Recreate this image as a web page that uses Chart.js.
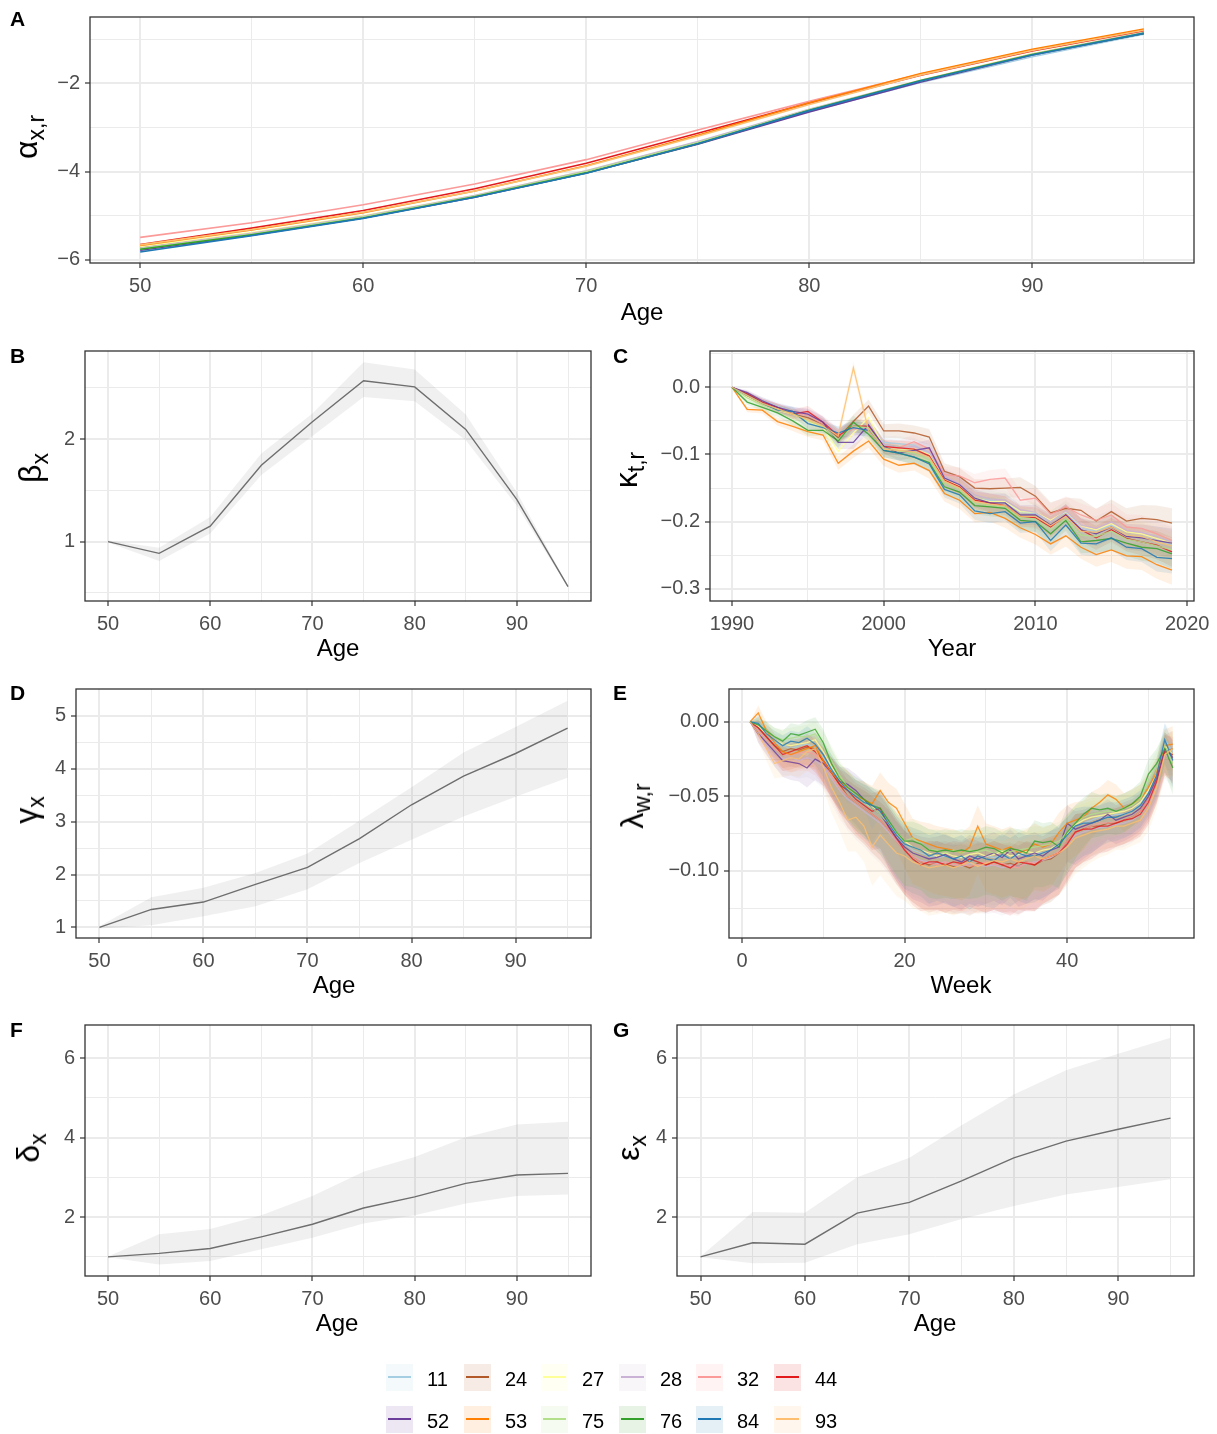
<!DOCTYPE html>
<html><head><meta charset="utf-8">
<script src="https://cdn.jsdelivr.net/npm/chart.js@4.4.0/dist/chart.umd.min.js"></script>
<style>
body{margin:0;background:#fff;width:1217px;height:1434px;position:relative;overflow:hidden;font-family:"Liberation Sans",Arial,sans-serif;}
canvas.pc{position:absolute;left:0;top:0;}
.lbl{position:absolute;font-weight:bold;font-size:21px;color:#000;line-height:1;}
.xt{position:absolute;font-size:24px;color:#000;transform:translate(-50%,-50%);white-space:nowrap;line-height:1;}
.yt{position:absolute;font-size:32px;color:#000;transform:translate(-50%,-50%) rotate(-90deg);white-space:nowrap;line-height:1;}
.yt sub{font-size:23px;vertical-align:-7px;}
.key{position:absolute;width:27px;height:27px;}
.kl{position:absolute;display:block;left:2px;width:23px;top:12px;height:2px;}
.ltx{position:absolute;font-size:20px;color:#000;line-height:1;}
</style>
</head><body>
<script>
// ---------- DATA ----------
const regions = ['11','24','27','28','32','44','52','53','75','76','84','93'];
const regionColors = ['#A6CEE3','#B15928','#FFFF99','#CAB2D6','#FB9A99','#E31A1C','#6A3D9A','#FF7F00','#B2DF8A','#33A02C','#1F78B4','#FDBF6F'];

const ages = [50,55,60,65,70,75,80,85,90,95];
const ageTicks = [50,60,70,80,90];
const ageMinor = [55,65,75,85,95];

// Panel A: alpha_{x,r}
const alpha11 = [-5.80,-5.44,-5.05,-4.58,-4.02,-3.37,-2.64,-1.98,-1.40,-0.89];
const alpha24 = [-5.72,-5.40,-5.02,-4.56,-4.01,-3.36,-2.62,-1.95,-1.35,-0.86];
const alpha27 = [-5.70,-5.38,-5.00,-4.54,-3.98,-3.33,-2.60,-1.93,-1.33,-0.85];
const alpha28 = [-5.73,-5.40,-5.01,-4.54,-3.98,-3.32,-2.59,-1.93,-1.34,-0.85];
const alpha32 = [-5.49,-5.16,-4.75,-4.28,-3.73,-3.06,-2.41,-1.79,-1.25,-0.80];
const alpha44 = [-5.65,-5.28,-4.88,-4.39,-3.81,-3.13,-2.45,-1.82,-1.27,-0.81];
const alpha52 = [-5.78,-5.44,-5.05,-4.58,-4.03,-3.38,-2.65,-1.97,-1.36,-0.87];
const alpha53 = [-5.67,-5.32,-4.93,-4.44,-3.87,-3.18,-2.44,-1.78,-1.23,-0.77];
const alpha75 = [-5.75,-5.42,-5.03,-4.56,-4.00,-3.34,-2.60,-1.94,-1.35,-0.86];
const alpha76 = [-5.76,-5.43,-5.05,-4.57,-4.03,-3.37,-2.61,-1.94,-1.35,-0.87];
const alpha84 = [-5.82,-5.45,-5.06,-4.58,-4.04,-3.37,-2.62,-1.95,-1.36,-0.87];
const alpha93 = [-5.66,-5.31,-4.92,-4.44,-3.88,-3.20,-2.48,-1.81,-1.26,-0.80];
const alphaTicks = [-6,-4,-2], alphaTickLabels = ['\u22126','\u22124','\u22122'], alphaMinor = [-5,-3,-1];

// Panel B: beta_x
const beta   = [1.00,0.885,1.15,1.745,2.17,2.57,2.51,2.095,1.41,0.56];
const betaLo = [0.99,0.81,1.08,1.65,2.03,2.41,2.37,1.99,1.35,0.55];
const betaHi = [1.01,0.94,1.24,1.86,2.25,2.75,2.68,2.24,1.48,0.57];
const betaTicks = [1,2], betaTickLabels = ['1','2'], betaMinor = [0.5,1.5,2.5];

// Panel C: kappa_{t,r}
const years = [1990,1991,1992,1993,1994,1995,1996,1997,1998,1999,2000,2001,2002,2003,2004,2005,2006,2007,2008,2009,2010,2011,2012,2013,2014,2015,2016,2017,2018,2019];
const kappa11 = [0,-0.010,-0.020,-0.028,-0.036,-0.044,-0.054,-0.070,-0.058,-0.060,-0.082,-0.084,-0.086,-0.098,-0.134,-0.146,-0.166,-0.168,-0.172,-0.185,-0.188,-0.200,-0.186,-0.210,-0.214,-0.205,-0.220,-0.222,-0.228,-0.234];
const kappa24 = [0,-0.010,-0.022,-0.032,-0.040,-0.045,-0.055,-0.075,-0.051,-0.028,-0.065,-0.065,-0.068,-0.074,-0.125,-0.133,-0.150,-0.151,-0.150,-0.149,-0.162,-0.187,-0.180,-0.183,-0.199,-0.185,-0.199,-0.195,-0.197,-0.202];
const kappa27 = [0,-0.015,-0.026,-0.034,-0.040,-0.050,-0.060,-0.095,-0.068,-0.045,-0.088,-0.092,-0.092,-0.100,-0.138,-0.146,-0.165,-0.170,-0.170,-0.185,-0.186,-0.198,-0.185,-0.206,-0.212,-0.203,-0.215,-0.218,-0.225,-0.232];
const kappa28 = [0,-0.012,-0.022,-0.030,-0.037,-0.040,-0.050,-0.070,-0.062,-0.060,-0.085,-0.090,-0.088,-0.096,-0.132,-0.144,-0.160,-0.166,-0.168,-0.182,-0.186,-0.200,-0.184,-0.205,-0.210,-0.200,-0.213,-0.216,-0.222,-0.230];
const kappa32 = [0,-0.012,-0.022,-0.030,-0.038,-0.042,-0.055,-0.072,-0.062,-0.062,-0.090,-0.090,-0.081,-0.092,-0.130,-0.132,-0.142,-0.137,-0.135,-0.168,-0.165,-0.189,-0.178,-0.190,-0.198,-0.190,-0.208,-0.210,-0.218,-0.228];
const kappa44 = [0,-0.010,-0.022,-0.030,-0.040,-0.036,-0.052,-0.072,-0.058,-0.058,-0.088,-0.090,-0.092,-0.102,-0.138,-0.148,-0.168,-0.172,-0.176,-0.192,-0.194,-0.208,-0.190,-0.212,-0.224,-0.212,-0.225,-0.230,-0.235,-0.245];
const kappa52 = [0,-0.008,-0.020,-0.030,-0.036,-0.040,-0.052,-0.082,-0.082,-0.056,-0.088,-0.098,-0.094,-0.090,-0.135,-0.145,-0.165,-0.172,-0.172,-0.190,-0.190,-0.205,-0.190,-0.212,-0.218,-0.208,-0.222,-0.224,-0.228,-0.232];
const kappa53 = [0,-0.033,-0.034,-0.051,-0.058,-0.066,-0.071,-0.113,-0.095,-0.080,-0.107,-0.116,-0.113,-0.124,-0.158,-0.168,-0.188,-0.186,-0.195,-0.209,-0.219,-0.233,-0.221,-0.238,-0.249,-0.242,-0.251,-0.252,-0.264,-0.272];
const kappa75 = [0,-0.016,-0.026,-0.032,-0.040,-0.050,-0.058,-0.078,-0.058,-0.060,-0.090,-0.095,-0.098,-0.108,-0.142,-0.152,-0.172,-0.176,-0.178,-0.194,-0.196,-0.212,-0.196,-0.220,-0.222,-0.214,-0.226,-0.230,-0.236,-0.242];
const kappa76 = [0,-0.022,-0.030,-0.038,-0.050,-0.064,-0.064,-0.080,-0.052,-0.070,-0.094,-0.098,-0.104,-0.112,-0.148,-0.156,-0.176,-0.178,-0.180,-0.198,-0.200,-0.218,-0.198,-0.230,-0.228,-0.225,-0.232,-0.238,-0.240,-0.248];
const kappa84 = [0,-0.012,-0.024,-0.034,-0.036,-0.054,-0.060,-0.068,-0.060,-0.064,-0.094,-0.098,-0.104,-0.114,-0.152,-0.160,-0.184,-0.188,-0.185,-0.202,-0.200,-0.228,-0.205,-0.232,-0.233,-0.224,-0.238,-0.240,-0.253,-0.255];
const kappa93 = [0,-0.012,-0.024,-0.032,-0.040,-0.048,-0.058,-0.072,0.029,-0.065,-0.092,-0.094,-0.096,-0.104,-0.140,-0.150,-0.170,-0.174,-0.176,-0.192,-0.192,-0.206,-0.192,-0.214,-0.216,-0.208,-0.220,-0.222,-0.230,-0.236];
const kappaHalfWidth = [0,0.004,0.005,0.006,0.007,0.008,0.008,0.010,0.010,0.010,0.010,0.011,0.011,0.012,0.012,0.013,0.013,0.014,0.014,0.015,0.015,0.016,0.016,0.017,0.018,0.018,0.019,0.020,0.021,0.022];
const yearTicks = [1990,2000,2010,2020], yearMinor = [1995,2005,2015];
const kappaTicks = [-0.3,-0.2,-0.1,0], kappaTickLabels = ['\u22120.3','\u22120.2','\u22120.1','0.0'], kappaMinor = [-0.25,-0.15,-0.05,0.05];

// Panel D: gamma_x
const gamma   = [1.00,1.34,1.48,1.815,2.135,2.68,3.32,3.86,4.29,4.77];
const gammaLo = [0.98,1.04,1.21,1.40,1.72,2.22,2.66,3.10,3.47,3.83];
const gammaHi = [1.02,1.57,1.75,2.03,2.40,3.02,3.65,4.31,4.79,5.29];
const gammaTicks = [1,2,3,4,5], gammaTickLabels = ['1','2','3','4','5'], gammaMinor = [1.5,2.5,3.5,4.5];

// Panel E: lambda_{w,r}
const weeks = [1,2,3,4,5,6,7,8,9,10,11,12,13,14,15,16,17,18,19,20,21,22,23,24,25,26,27,28,29,30,31,32,33,34,35,36,37,38,39,40,41,42,43,44,45,46,47,48,49,50,51,52,53];
const lambda11 = [0,-0.004,-0.010,-0.014,-0.016,-0.018,-0.016,-0.015,-0.017,-0.024,-0.032,-0.040,-0.046,-0.050,-0.054,-0.058,-0.062,-0.068,-0.076,-0.082,-0.086,-0.088,-0.090,-0.091,-0.090,-0.092,-0.091,-0.090,-0.092,-0.090,-0.091,-0.090,-0.092,-0.089,-0.090,-0.088,-0.088,-0.086,-0.083,-0.076,-0.070,-0.068,-0.066,-0.064,-0.064,-0.062,-0.062,-0.060,-0.055,-0.046,-0.034,-0.012,-0.020];
const lambda24 = [0,-0.004,-0.010,-0.016,-0.020,-0.018,-0.019,-0.017,-0.018,-0.026,-0.034,-0.042,-0.050,-0.054,-0.058,-0.062,-0.066,-0.072,-0.080,-0.086,-0.090,-0.094,-0.096,-0.094,-0.096,-0.097,-0.096,-0.098,-0.095,-0.096,-0.094,-0.096,-0.095,-0.097,-0.094,-0.096,-0.093,-0.092,-0.088,-0.080,-0.074,-0.072,-0.070,-0.070,-0.068,-0.068,-0.066,-0.064,-0.060,-0.052,-0.040,-0.020,-0.018];
const lambda27 = [0,-0.003,-0.008,-0.012,-0.015,-0.016,-0.015,-0.014,-0.012,-0.020,-0.030,-0.038,-0.044,-0.050,-0.054,-0.057,-0.062,-0.068,-0.074,-0.080,-0.084,-0.086,-0.088,-0.090,-0.088,-0.090,-0.091,-0.089,-0.088,-0.090,-0.089,-0.087,-0.090,-0.089,-0.087,-0.088,-0.086,-0.085,-0.082,-0.075,-0.069,-0.066,-0.064,-0.063,-0.062,-0.061,-0.060,-0.058,-0.054,-0.046,-0.034,-0.016,-0.022];
const lambda28 = [0,-0.008,-0.015,-0.020,-0.025,-0.024,-0.026,-0.024,-0.026,-0.030,-0.038,-0.046,-0.052,-0.056,-0.060,-0.064,-0.068,-0.074,-0.080,-0.086,-0.090,-0.093,-0.094,-0.095,-0.094,-0.096,-0.097,-0.095,-0.096,-0.097,-0.096,-0.098,-0.096,-0.097,-0.095,-0.094,-0.093,-0.091,-0.088,-0.082,-0.076,-0.074,-0.072,-0.071,-0.070,-0.069,-0.068,-0.066,-0.062,-0.054,-0.040,-0.022,-0.026];
const lambda32 = [0,-0.006,-0.012,-0.018,-0.022,-0.022,-0.021,-0.020,-0.022,-0.028,-0.036,-0.044,-0.050,-0.054,-0.058,-0.062,-0.066,-0.072,-0.080,-0.086,-0.090,-0.094,-0.095,-0.096,-0.094,-0.096,-0.095,-0.097,-0.096,-0.094,-0.096,-0.095,-0.097,-0.098,-0.094,-0.095,-0.092,-0.090,-0.087,-0.080,-0.074,-0.072,-0.070,-0.068,-0.068,-0.067,-0.066,-0.064,-0.060,-0.052,-0.038,-0.018,-0.024];
const lambda44 = [0,-0.004,-0.010,-0.016,-0.022,-0.020,-0.018,-0.016,-0.020,-0.026,-0.034,-0.042,-0.046,-0.052,-0.056,-0.060,-0.058,-0.070,-0.078,-0.086,-0.092,-0.096,-0.094,-0.094,-0.096,-0.094,-0.095,-0.092,-0.094,-0.096,-0.094,-0.096,-0.098,-0.094,-0.095,-0.096,-0.092,-0.090,-0.088,-0.082,-0.074,-0.072,-0.072,-0.070,-0.070,-0.068,-0.066,-0.065,-0.062,-0.054,-0.040,-0.020,-0.022];
const lambda52 = [0,-0.008,-0.014,-0.020,-0.026,-0.027,-0.028,-0.031,-0.025,-0.028,-0.034,-0.040,-0.042,-0.046,-0.052,-0.058,-0.062,-0.070,-0.078,-0.084,-0.088,-0.090,-0.092,-0.091,-0.089,-0.092,-0.094,-0.090,-0.092,-0.090,-0.088,-0.091,-0.086,-0.092,-0.090,-0.088,-0.090,-0.086,-0.084,-0.068,-0.072,-0.070,-0.068,-0.066,-0.062,-0.066,-0.064,-0.062,-0.058,-0.050,-0.038,-0.018,-0.024];
const lambda53 = [0,0.006,-0.006,-0.014,-0.020,-0.022,-0.020,-0.018,-0.016,-0.026,-0.034,-0.040,-0.044,-0.050,-0.052,-0.055,-0.046,-0.054,-0.058,-0.068,-0.078,-0.080,-0.082,-0.084,-0.085,-0.086,-0.088,-0.084,-0.070,-0.082,-0.084,-0.086,-0.084,-0.088,-0.086,-0.082,-0.084,-0.082,-0.074,-0.068,-0.066,-0.064,-0.058,-0.054,-0.049,-0.052,-0.058,-0.055,-0.052,-0.044,-0.034,-0.016,-0.015];
const lambda75 = [0,-0.002,-0.006,-0.010,-0.012,-0.011,-0.010,-0.010,-0.008,-0.016,-0.026,-0.036,-0.044,-0.050,-0.054,-0.058,-0.062,-0.068,-0.074,-0.080,-0.078,-0.082,-0.086,-0.086,-0.088,-0.086,-0.088,-0.086,-0.087,-0.086,-0.088,-0.086,-0.087,-0.086,-0.085,-0.084,-0.083,-0.082,-0.080,-0.074,-0.068,-0.064,-0.062,-0.061,-0.060,-0.060,-0.058,-0.056,-0.052,-0.040,-0.030,-0.016,-0.028];
const lambda76 = [0,-0.002,-0.006,-0.010,-0.013,-0.008,-0.009,-0.007,-0.005,-0.014,-0.028,-0.038,-0.044,-0.048,-0.052,-0.056,-0.058,-0.066,-0.074,-0.080,-0.080,-0.082,-0.086,-0.087,-0.086,-0.087,-0.086,-0.087,-0.086,-0.084,-0.085,-0.088,-0.085,-0.086,-0.088,-0.080,-0.081,-0.080,-0.084,-0.074,-0.068,-0.062,-0.058,-0.059,-0.058,-0.060,-0.058,-0.055,-0.050,-0.035,-0.028,-0.018,-0.031];
const lambda84 = [0,-0.001,-0.008,-0.012,-0.016,-0.013,-0.014,-0.011,-0.015,-0.022,-0.032,-0.040,-0.046,-0.050,-0.054,-0.056,-0.060,-0.068,-0.076,-0.082,-0.084,-0.086,-0.090,-0.088,-0.090,-0.092,-0.090,-0.094,-0.090,-0.092,-0.093,-0.089,-0.092,-0.088,-0.090,-0.090,-0.088,-0.086,-0.082,-0.076,-0.070,-0.068,-0.068,-0.066,-0.064,-0.064,-0.062,-0.060,-0.056,-0.048,-0.036,-0.012,-0.026];
const lambda93 = [0,-0.008,-0.018,-0.028,-0.026,-0.024,-0.025,-0.020,-0.018,-0.030,-0.044,-0.054,-0.066,-0.064,-0.070,-0.084,-0.076,-0.082,-0.088,-0.090,-0.094,-0.096,-0.098,-0.097,-0.096,-0.098,-0.096,-0.094,-0.097,-0.095,-0.093,-0.094,-0.092,-0.094,-0.092,-0.090,-0.092,-0.090,-0.088,-0.084,-0.078,-0.076,-0.074,-0.073,-0.072,-0.070,-0.070,-0.068,-0.066,-0.058,-0.044,-0.022,-0.018];
const lambdaUp   = [0,0.005,0.006,0.006,0.007,0.007,0.007,0.008,0.008,0.009,0.010,0.010,0.011,0.011,0.012,0.012,0.012,0.013,0.013,0.013,0.013,0.013,0.014,0.014,0.014,0.014,0.014,0.014,0.014,0.014,0.014,0.014,0.014,0.014,0.014,0.014,0.013,0.013,0.013,0.012,0.012,0.011,0.011,0.010,0.010,0.010,0.010,0.010,0.010,0.010,0.010,0.011,0.012];
const lambdaDown = [0,0.006,0.008,0.010,0.011,0.012,0.012,0.013,0.014,0.015,0.017,0.019,0.021,0.023,0.024,0.026,0.027,0.028,0.029,0.030,0.031,0.031,0.032,0.032,0.032,0.032,0.032,0.032,0.032,0.032,0.032,0.032,0.032,0.032,0.032,0.031,0.030,0.029,0.028,0.026,0.024,0.022,0.020,0.018,0.017,0.016,0.016,0.015,0.015,0.015,0.015,0.016,0.018];
const weekTicks = [0,20,40], weekMinor = [10,30,50];
const lambdaTicks = [-0.10,-0.05,0], lambdaTickLabels = ['\u22120.10','\u22120.05','0.00'], lambdaMinor = [-0.125,-0.075,-0.025];

// Panel F: delta_x
const delta   = [1.00,1.09,1.21,1.505,1.82,2.23,2.51,2.85,3.06,3.10];
const deltaLo = [0.99,0.81,0.90,1.19,1.48,1.84,2.05,2.34,2.53,2.57];
const deltaHi = [1.01,1.57,1.70,2.05,2.53,3.14,3.51,4.01,4.33,4.40];
// Panel G: epsilon_x
const epsilon   = [1.00,1.355,1.32,2.10,2.37,2.91,3.49,3.91,4.21,4.49];
const epsilonLo = [0.99,0.84,0.85,1.32,1.57,1.95,2.28,2.57,2.76,2.95];
const epsilonHi = [1.01,2.13,2.11,3.00,3.49,4.31,5.08,5.69,6.11,6.51];
const fgTicks = [2,4,6], fgTickLabels = ['2','4','6'], fgMinor = [1,3,5];

// ---------- DRAWING ----------
const FONT = "'Liberation Sans', Arial, Helvetica, sans-serif";
const W = 1217, H = 1434, YW = 70, XH = 40;
const near = (a,b) => Math.abs(a-b) < 1e-9;
function rgba(hex, a){const n=parseInt(hex.slice(1),16);return `rgba(${n>>16},${(n>>8)&255},${n&255},${a})`;}

function makeAxis(pos, min, max, major, minor, labels){
  const all = major.concat(minor).sort((a,b)=>a-b);
  const isMaj = v => major.some(m=>near(m,v));
  return {
    type:'linear', position:pos, min, max,
    afterBuildTicks: s => { s.ticks = all.filter(v=>v>=min&&v<=max).map(v=>({value:v})); },
    afterFit: s => { if(pos==='left') s.width = YW; else s.height = XH; },
    border:{display:false},
    grid:{ drawOnChartArea:true, drawTicks:true, tickLength:5, color:'#EBEBEB',
      lineWidth: c => (c.tick && isMaj(c.tick.value)) ? 2 : 1,
      tickColor: c => (c.tick && isMaj(c.tick.value)) ? '#333333' : 'rgba(0,0,0,0)',
      tickWidth: 1.2 },
    ticks:{ autoSkip:false, maxRotation:0, minRotation:0, color:'#4D4D4D', padding: pos==='left'?5:6,
      font:{family:FONT, size:20},
      callback: v => { const i = major.findIndex(m=>near(m,v)); return i>=0 ? labels[i] : ''; } }
  };
}
const boxPlugin = { id:'box', afterDraw(chart){ const {ctx, chartArea:a} = chart; ctx.save(); ctx.strokeStyle='#333333'; ctx.lineWidth=1.3; ctx.strokeRect(a.left, a.top, a.right-a.left, a.bottom-a.top); ctx.restore(); } };

function makeChart(plot, xAx, yAx, datasets){
  const c = document.createElement('canvas');
  c.width = W; c.height = H; c.className = 'pc';
  document.body.appendChild(c);
  const [l,t,r,b] = plot;
  new Chart(c, {type:'line', data:{datasets}, options:{
    responsive:false, animation:false, events:[],
    layout:{padding:{left:l-YW, top:t, right:W-r, bottom:H-b-XH}},
    scales:{x:xAx, y:yAx},
    plugins:{legend:{display:false}, tooltip:{enabled:false}, filler:{drawTime:'beforeDatasetsDraw'}},
    elements:{point:{radius:0}, line:{tension:0}}
  }, plugins:[boxPlugin]});
}
const pts = (xs, ys) => xs.map((x,i)=>({x, y:ys[i]}));
function lineDs(xs, ys, color, w){ return {data:pts(xs,ys), borderColor:color, borderWidth:w, pointRadius:0, fill:false}; }
function bandDs(xs, lo, hi, fillColor){
  return [
    {data:pts(xs,hi), borderColor:'rgba(0,0,0,0)', borderWidth:0, pointRadius:0, fill:'+1', backgroundColor:fillColor},
    {data:pts(xs,lo), borderColor:'rgba(0,0,0,0)', borderWidth:0, pointRadius:0, fill:false}
  ];
}

// Panel A
const alphaSeries = [alpha11,alpha24,alpha27,alpha28,alpha32,alpha44,alpha52,alpha53,alpha75,alpha76,alpha84,alpha93];
{
  const ds = [];
  for (let i = regions.length-1; i >= 0; i--) ds.push(lineDs(ages, alphaSeries[i], regionColors[i], 1.6));
  makeChart([90,13,1194,263], makeAxis('bottom',47.75,97.25,ageTicks,ageMinor,ageTicks.map(String)),
    makeAxis('left',-6.07,-0.50,alphaTicks,alphaMinor,alphaTickLabels), ds);
}
// Single-series panels
const GREY = '#6E6E6E', BAND = 'rgba(128,128,128,0.12)';
function singlePanel(plot, yr, ticks, minor, labels, mid, lo, hi){
  makeChart(plot, makeAxis('bottom',47.75,97.25,ageTicks,ageMinor,ageTicks.map(String)),
    makeAxis('left',yr[0],yr[1],ticks,minor,labels),
    [lineDs(ages, mid, GREY, 1.4), ...bandDs(ages, lo, hi, BAND)]);
}
singlePanel([85,351,591,601],[0.42,2.86],betaTicks,betaMinor,betaTickLabels,beta,betaLo,betaHi);
singlePanel([76,689,591,938],[0.80,5.51],gammaTicks,gammaMinor,gammaTickLabels,gamma,gammaLo,gammaHi);
singlePanel([85,1025,591,1276],[0.52,6.83],fgTicks,fgMinor,fgTickLabels,delta,deltaLo,deltaHi);
singlePanel([677,1025,1194,1276],[0.52,6.83],fgTicks,fgMinor,fgTickLabels,epsilon,epsilonLo,epsilonHi);

// Panel C
const kappaSeries = [kappa11,kappa24,kappa27,kappa28,kappa32,kappa44,kappa52,kappa53,kappa75,kappa76,kappa84,kappa93];
{
  const lines = [], bands = [];
  for (let i = regions.length-1; i >= 0; i--) {
    const k = kappaSeries[i];
    lines.push(lineDs(years, k, rgba(regionColors[i],0.85), 1.3));
    bands.push(...bandDs(years, k.map((v,j)=>v-kappaHalfWidth[j]), k.map((v,j)=>v+kappaHalfWidth[j]), rgba(regionColors[i],0.11)));
  }
  makeChart([710,351,1194,601], makeAxis('bottom',1988.55,2020.45,yearTicks,yearMinor,yearTicks.map(String)),
    makeAxis('left',-0.318,0.054,kappaTicks,kappaMinor,kappaTickLabels), [...lines, ...bands]);
}
// Panel E
const lambdaSeries = [lambda11,lambda24,lambda27,lambda28,lambda32,lambda44,lambda52,lambda53,lambda75,lambda76,lambda84,lambda93];
{
  const lines = [], bands = [];
  for (let i = regions.length-1; i >= 0; i--) {
    const k = lambdaSeries[i];
    lines.push(lineDs(weeks, k, rgba(regionColors[i],0.8), 1.3));
    bands.push(...bandDs(weeks, k.map((v,j)=>v-lambdaDown[j]), k.map((v,j)=>v+lambdaUp[j]), rgba(regionColors[i],0.11)));
  }
  makeChart([729,689,1194,938], makeAxis('bottom',-1.6,55.6,weekTicks,weekMinor,weekTicks.map(String)),
    makeAxis('left',-0.145,0.022,lambdaTicks,lambdaMinor,lambdaTickLabels), [...lines, ...bands]);
}

// ---------- TEXT ----------
function addDiv(cls, html, x, y){ const d=document.createElement('div'); d.className=cls; d.innerHTML=html; d.style.left=x+'px'; d.style.top=y+'px'; document.body.appendChild(d); return d; }
[['A',10,8],['B',10,345],['C',613,345],['D',10,682],['E',613,682],['F',10,1019],['G',613,1019]].forEach(p=>addDiv('lbl',p[0],p[1],p[2]));
[['Age',642,312],['Age',338,648],['Year',952,648],['Age',334,985],['Week',961,985],['Age',337,1323],['Age',935,1323]].forEach(p=>addDiv('xt',p[0],p[1],p[2]));
[['\u03b1<sub>x,r</sub>',29,137],['\u03b2<sub>x</sub>',33,468],['\u03ba<sub>t,r</sub>',629,470],['\u03b3<sub>x</sub>',29,810],['\u03bb<sub>w,r</sub>',635,806],['\u03b4<sub>x</sub>',31,1148],['\u03b5<sub>x</sub>',631,1148]].forEach(p=>addDiv('yt',p[0],p[1],p[2]));

// Legend
const legX = [386,464,541,619,696,774], legY = [1364,1406];
regions.forEach((r,i)=>{
  const x = legX[i%6], y = legY[Math.floor(i/6)];
  const k = addDiv('key','',x,y);
  k.style.backgroundColor = rgba(regionColors[i],0.12);
  const ln = document.createElement('div'); ln.className = 'kl'; ln.style.backgroundColor = regionColors[i]; k.appendChild(ln);
  addDiv('ltx', r, x+41, y+5);
});
</script>
</body></html>
